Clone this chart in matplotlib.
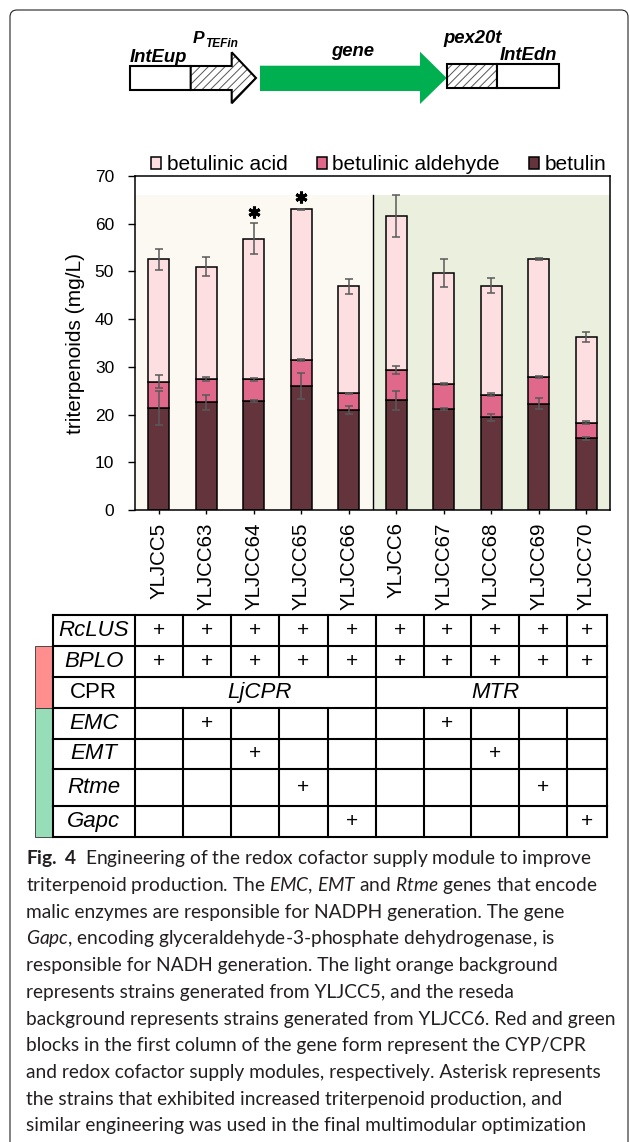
import matplotlib
matplotlib.use("Agg")
import matplotlib.pyplot as plt
import numpy as np
from matplotlib.patches import Polygon, Rectangle, FancyBboxPatch, Patch

plt.rcParams['font.family'] = ['Liberation Sans', 'DejaVu Sans']
plt.rcParams['mathtext.fontset'] = 'custom'
plt.rcParams['mathtext.rm'] = 'Lato'
plt.rcParams['mathtext.it'] = 'Lato:italic'
plt.rcParams['mathtext.bf'] = 'Lato:bold'
plt.rcParams['hatch.linewidth'] = 0.7

# bar chart data (mg/L)
strains = ["YLJCC5", "YLJCC63", "YLJCC64", "YLJCC65", "YLJCC66",
           "YLJCC6", "YLJCC67", "YLJCC68", "YLJCC69", "YLJCC70"]
betulin = np.array([21.4, 22.6, 22.75, 26.05, 20.9, 23.0, 21.2, 19.4, 22.3, 15.05])
aldehyde = np.array([5.5, 4.9, 4.65, 5.35, 3.6, 6.3, 5.3, 4.8, 5.6, 3.25])
acid = np.array([25.6, 23.5, 29.5, 31.6, 22.4, 32.25, 23.15, 22.85, 24.7, 18.0])
betulin_err = [3.5, 1.6, 0.2, 2.7, 0.8, 2.0, 0.15, 0.8, 1.1, 0.3]
aldehyde_err = [1.4, 0.4, 0.3, 0.2, 0.1, 0.85, 0.2, 0.4, 0.15, 0.3]
acid_err = [2.3, 2.0, 3.2, 0.1, 1.6, 4.4, 2.9, 1.6, 0.2, 1.0]
starred = [2, 3]
n_from_yljcc5 = 5
shade_top = 66

# gene table
genes = ["RcLUS", "BPLO", "CPR", "EMC", "EMT", "Rtme", "Gapc"]
gene_italic = [True, True, False, True, True, True, True]
rclus = [1, 1, 1, 1, 1, 1, 1, 1, 1, 1]
bplo = [1, 1, 1, 1, 1, 1, 1, 1, 1, 1]
cpr = ["LjCPR"] * 5 + ["MTR"] * 5
emc = [0, 1, 0, 0, 0, 0, 1, 0, 0, 0]
emt = [0, 0, 1, 0, 0, 0, 0, 1, 0, 0]
rtme = [0, 0, 0, 1, 0, 0, 0, 0, 1, 0]
gapc = [0, 0, 0, 0, 1, 0, 0, 0, 0, 1]

caption = [
    r"$\mathbf{Fig.\ 4}$  Engineering of the redox cofactor supply module to improve",
    r"triterpenoid production. The $\mathit{EMC}$, $\mathit{EMT}$ and $\mathit{Rtme}$ genes that encode",
    "malic enzymes are responsible for NADPH generation. The gene",
    r"$\mathit{Gapc}$, encoding glyceraldehyde-3-phosphate dehydrogenase, is",
    "responsible for NADH generation. The light orange background",
    "represents strains generated from YLJCC5, and the reseda",
    "background represents strains generated from YLJCC6. Red and green",
    "blocks in the first column of the gene form represent the CYP/CPR",
    "and redox cofactor supply modules, respectively. Asterisk represents",
    "the strains that exhibited increased triterpenoid production, and",
    "similar engineering was used in the final multimodular optimization",
]

c_acid = "#FDDFE2"
c_ald = "#E0698B"
c_bet = "#64343C"
c_orange = "#FCF8F2"
c_green = "#EBF0DE"

W, H = 629, 1142
fig = plt.figure(figsize=(W / 100, H / 100), dpi=100)

# full-figure pixel axes for diagram, table, caption
bg = fig.add_axes([0, 0, 1, 1])
bg.set_xlim(0, W)
bg.set_ylim(H, 0)
bg.axis("off")

bg.add_patch(FancyBboxPatch((10, 10), 618, 1300, boxstyle="round,pad=0,rounding_size=7",
                            fc="none", ec="#222222", lw=0.8))

# construct diagram
hatch_kw = dict(facecolor="white", edgecolor="#555555", hatch="////", lw=0)
prom = [(190.7, 66), (231.7, 66), (231.7, 52.3), (256, 78), (231.7, 103.3), (231.7, 90), (190.7, 90)]
bg.add_patch(Rectangle((130, 66), 60.7, 24, fc="white", ec="black", lw=1.5))
bg.add_patch(Polygon(prom, closed=True, **hatch_kw))
bg.add_patch(Polygon(prom, closed=True, fc="none", ec="black", lw=1.5))
gene_arrow = [(260, 65.7), (420, 65.7), (420, 51.7), (446.7, 78), (420, 104), (420, 91), (260, 91)]
bg.add_patch(Polygon(gene_arrow, closed=True, fc="#00B050", lw=0))
bg.add_patch(Rectangle((446.7, 64), 50.6, 24.3, **hatch_kw))
bg.add_patch(Rectangle((446.7, 64), 50.6, 24.3, fc="none", ec="black", lw=1.5))
bg.add_patch(Rectangle((497.3, 64), 61.7, 24.3, fc="white", ec="black", lw=1.5))

lab_kw = dict(fontsize=13.3, fontweight="bold", style="italic", va="baseline")
bg.text(130, 62, "IntEup", **lab_kw)
bg.text(192.7, 43.3, "P", fontsize=12.5, fontweight="bold", style="italic", va="baseline")
bg.text(205, 46.7, "TEFin", fontsize=8.6, fontweight="bold", style="italic", va="baseline")
bg.text(352.7, 56, "gene", ha="center", **lab_kw)
bg.text(443.3, 43.3, "pex20t", **lab_kw)
bg.text(500, 60, "IntEdn", **lab_kw)

# chart
ax = fig.add_axes([135 / W, 1 - 510 / H, 475 / W, 334 / H])
x = np.arange(len(strains))
ax.axvspan(-0.5, n_from_yljcc5 - 0.5, ymax=shade_top / 70, color=c_orange, lw=0, zorder=0)
ax.axvspan(n_from_yljcc5 - 0.5, len(strains) - 0.5, ymax=shade_top / 70, color=c_green, lw=0, zorder=0)
ax.plot([n_from_yljcc5 - 0.5] * 2, [0, shade_top], color="black", lw=1, zorder=1)

bw = 0.45
bar_kw = dict(width=bw, edgecolor="black", linewidth=1.1, zorder=2)
ax.bar(x, betulin, color=c_bet, **bar_kw)
ax.bar(x, aldehyde, bottom=betulin, color=c_ald, **bar_kw)
ax.bar(x, acid, bottom=betulin + aldehyde, color=c_acid, **bar_kw)

err_kw = dict(fmt="none", ecolor="#595959", elinewidth=1.1, capsize=3.2, capthick=1.1, zorder=3)
ax.errorbar(x, betulin, yerr=betulin_err, **err_kw)
ax.errorbar(x, betulin + aldehyde, yerr=aldehyde_err, **err_kw)
total = betulin + aldehyde + acid
ax.errorbar(x, total, yerr=acid_err, **err_kw)

for i in starred:
    ax.plot(x[i], total[i] + acid_err[i] + 2.4, marker=(6, 2, 0), ms=8.5, mew=2.2,
            color="black", zorder=4)

ax.set_xlim(-0.5, len(strains) - 0.5)
ax.set_ylim(0, 70)
ax.set_yticks(range(0, 71, 10))
ax.set_xticks(x)
ax.set_xticklabels(strains, rotation=90)
ax.tick_params(axis="y", length=5, width=1, pad=10, labelsize=12.5)
ax.tick_params(axis="x", length=3, width=1, pad=6, labelsize=14.8)
for s in ax.spines.values():
    s.set_linewidth(1.1)
ax.set_ylabel("triterpenoids (mg/L)", fontsize=15)
ax.yaxis.set_label_coords(-0.105, 0.5)

handles = [Patch(facecolor=c_acid, edgecolor="black", lw=1.1, label="betulinic acid"),
           Patch(facecolor=c_ald, edgecolor="black", lw=1.1, label="betulinic aldehyde"),
           Patch(facecolor=c_bet, edgecolor="black", lw=1.1, label="betulin")]
ax.legend(handles=handles, loc="center left", bbox_to_anchor=(151 / W, 1 - 165 / H),
          bbox_transform=fig.transFigure, ncol=3, frameon=False, fontsize=15,
          handlelength=0.5, handleheight=0.5, handletextpad=0.25, columnspacing=1.4,
          borderpad=0, borderaxespad=0)

# table
col_edges = [52.7, 135, 183.3, 231.3, 279.3, 327.5, 375.7, 423.5, 471, 518.7, 566.7, 606.7]
row_edges = [615, 646, 676.5, 708, 738.5, 768.5, 806, 837]
rows = [rclus, bplo, cpr, emc, emt, rtme, gapc]

bg.add_patch(Rectangle((35, row_edges[1]), 16.7, row_edges[3] - row_edges[1],
                       fc="#FF8E8E", ec="#333333", lw=0.6))
bg.add_patch(Rectangle((35, row_edges[3]), 16.7, row_edges[7] - row_edges[3],
                       fc="#96DDB8", ec="#333333", lw=0.6))

for y in row_edges:
    bg.plot([col_edges[0], col_edges[-1]], [y, y], color="black", lw=1.5, solid_capstyle="projecting")

for r, (g, vals) in enumerate(zip(genes, rows)):
    y0, y1 = row_edges[r], row_edges[r + 1]
    yc = (y0 + y1) / 2
    bg.text((col_edges[0] + col_edges[1]) / 2, yc, g, fontsize=16, ha="center", va="center",
            style="italic" if gene_italic[r] else "normal")
    if isinstance(vals[0], str):
        # merged cells
        edges = [0, 1]
        start = 0
        for j in range(1, len(vals) + 1):
            if j == len(vals) or vals[j] != vals[start]:
                xa, xb = col_edges[start + 1], col_edges[j + 1]
                bg.text((xa + xb) / 2 + 4, yc, vals[start], fontsize=16, style="italic",
                        ha="center", va="center")
                edges.append(j + 1)
                start = j
    else:
        edges = range(len(col_edges))
        for j, v in enumerate(vals):
            if v:
                bg.text((col_edges[j + 1] + col_edges[j + 2]) / 2, yc, "+", fontsize=15,
                        ha="center", va="center")
    for e in edges:
        bg.plot([col_edges[e]] * 2, [y0, y1], color="black", lw=1.5, solid_capstyle="projecting")

# caption, sized to the reference line width
renderer = fig.canvas.get_renderer()
probe = bg.text(0, 0, caption[6], fontsize=10, family="Lato")
wpx = probe.get_window_extent(renderer).width
probe.remove()
cap_size = 10 * 592 / wpx
for i, line in enumerate(caption):
    bg.text(25.8, 864.3 + 26.7 * i, line, fontsize=cap_size, family="Lato",
            color="#231F20", va="baseline")

fig.savefig("out.png", dpi=100)
